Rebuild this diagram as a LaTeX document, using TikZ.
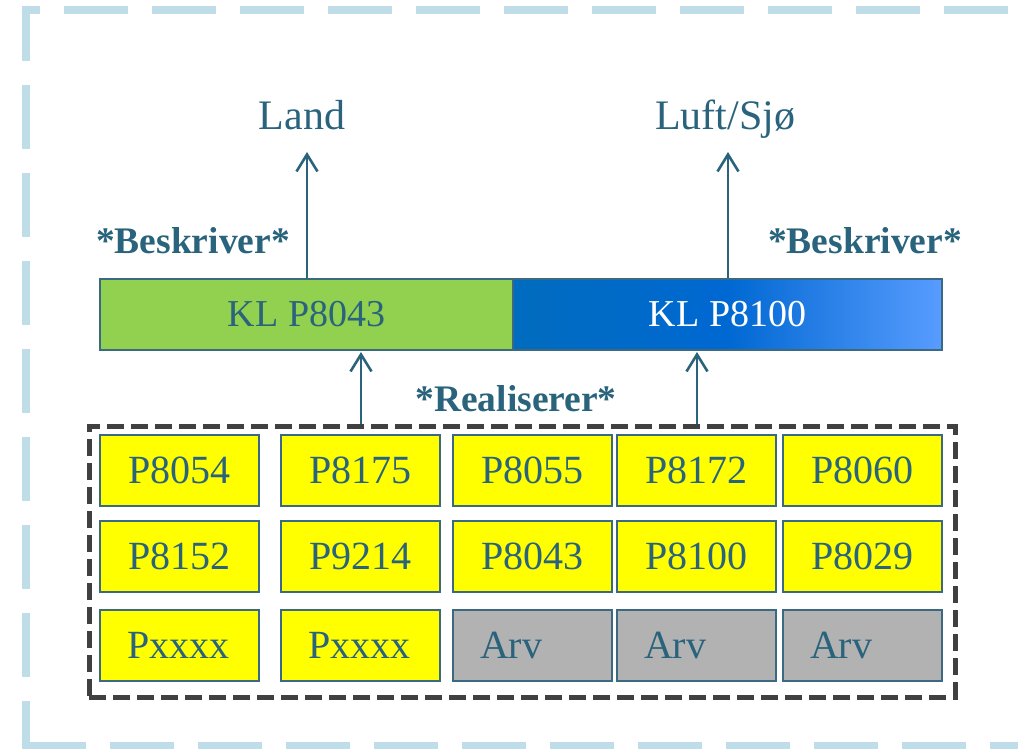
\documentclass[tikz,border=0pt]{standalone}
\usepackage{fontspec}
\setmainfont{Liberation Serif}
\usetikzlibrary{arrows.meta}
\definecolor{txt}{RGB}{42,99,124}
\definecolor{edge}{RGB}{60,105,130}
\definecolor{outerdash}{RGB}{190,221,232}
\definecolor{boxdash}{RGB}{64,64,64}
\definecolor{klgreen}{RGB}{146,208,80}
\definecolor{blueL}{RGB}{0,108,190}
\definecolor{blueM}{RGB}{0,104,210}
\definecolor{blueR}{RGB}{88,156,255}
\definecolor{yel}{RGB}{255,255,0}
\definecolor{gry}{RGB}{178,178,178}
\tikzset{
  lbl/.style={text=txt, inner sep=0pt, anchor=base, font=\fontsize{42}{50}\selectfont},
  boldlbl/.style={text=txt, inner sep=0pt, anchor=base, font=\fontsize{37.5}{44}\selectfont\bfseries},
  klbox/.style={draw=edge, line width=1.3pt, minimum height=71pt, inner sep=0pt,
    font=\fontsize{38}{46}\selectfont},
  cell/.style={draw=edge, line width=1.2pt, fill=yel, text=txt, minimum width=159pt,
    minimum height=71pt, inner sep=0pt, font=\fontsize{40}{48}\selectfont},
  cellL/.style={cell, text width=105pt, align=left, inner xsep=27pt},
  arvcell/.style={cellL, fill=gry},
  conn/.style={draw=txt, line width=2.6pt, -{Straight Barb[length=17pt,width=21pt]}},
}
\begin{document}
\begin{tikzpicture}[x=1pt,y=-1pt]
\useasboundingbox (0,0) rectangle (1018,749);
% outer light-blue dashed frame
\draw[outerdash, line width=8pt, dash pattern=on 64pt off 24pt] (40,10.5) -- (26.3,10.5) -- (26.3,746);
\draw[outerdash, line width=8pt, dash pattern=on 64pt off 24pt, dash phase=64pt] (40,10.5) -- (1060,10.5);
\draw[outerdash, line width=8pt, dash pattern=on 64pt off 24pt] (22.3,746) -- (1060,746);

% top labels
\node[lbl] (land) at (302,130) {Land};
\node[lbl] (luft) at (725,130) {Luft/Sjø};

% KL boxes
\node[klbox, fill=klgreen, text=txt, minimum width=413pt] (kl1) at (306.5,314.5) {KL P8043};
\node[klbox, left color=blueL, right color=blueR, middle color=blueM, text=white, minimum width=429pt] (kl2) at (727.5,314.5) {KL P8100};

% Beskriver labels
\node[boldlbl] (bes1) at (193,253) {*Beskriver*};
\node[boldlbl] (bes2) at (865,253) {*Beskriver*};

% arrows to Land / Luft
\coordinate (landtip) at (307,152);
\coordinate (lufttip) at (728,152);
\draw[conn] (kl1.north -| landtip) -- (landtip);
\draw[conn] (kl2.north -| lufttip) -- (lufttip);

% realisation box
\node[draw=boxdash, line width=5pt, dash pattern=on 17pt off 7pt, minimum width=866pt, minimum height=271pt, inner sep=0pt] (real) at (522,561.5) {};
\node[boldlbl] (realtxt) at (516,411) {*Realiserer*};
\coordinate (r1tip) at (361,352);
\coordinate (r2tip) at (697,352);
\draw[conn] (real.north -| r1tip) -- (r1tip);
\draw[conn] (real.north -| r2tip) -- (r2tip);

% cells row 1
\node[cell] (c11) at (179.5,470.5) {P8054};
\node[cell] (c12) at (360.5,470.5) {P8175};
\node[cell] (c13) at (532.5,470.5) {P8055};
\node[cell] (c14) at (696.5,470.5) {P8172};
\node[cell] (c15) at (862.5,470.5) {P8060};
% row 2
\node[cell] (c21) at (179.5,556.5) {P8152};
\node[cell] (c22) at (360.5,556.5) {P9214};
\node[cell] (c23) at (532.5,556.5) {P8043};
\node[cell] (c24) at (696.5,556.5) {P8100};
\node[cell] (c25) at (862.5,556.5) {P8029};
% row 3
\node[cellL] (c31) at (179.5,645.5) {Pxxxx};
\node[cellL] (c32) at (360.5,645.5) {Pxxxx};
\node[arvcell] (c33) at (532.5,645.5) {Arv};
\node[arvcell] (c34) at (696.5,645.5) {Arv};
\node[arvcell] (c35) at (862.5,645.5) {Arv};
\end{tikzpicture}
\end{document}
